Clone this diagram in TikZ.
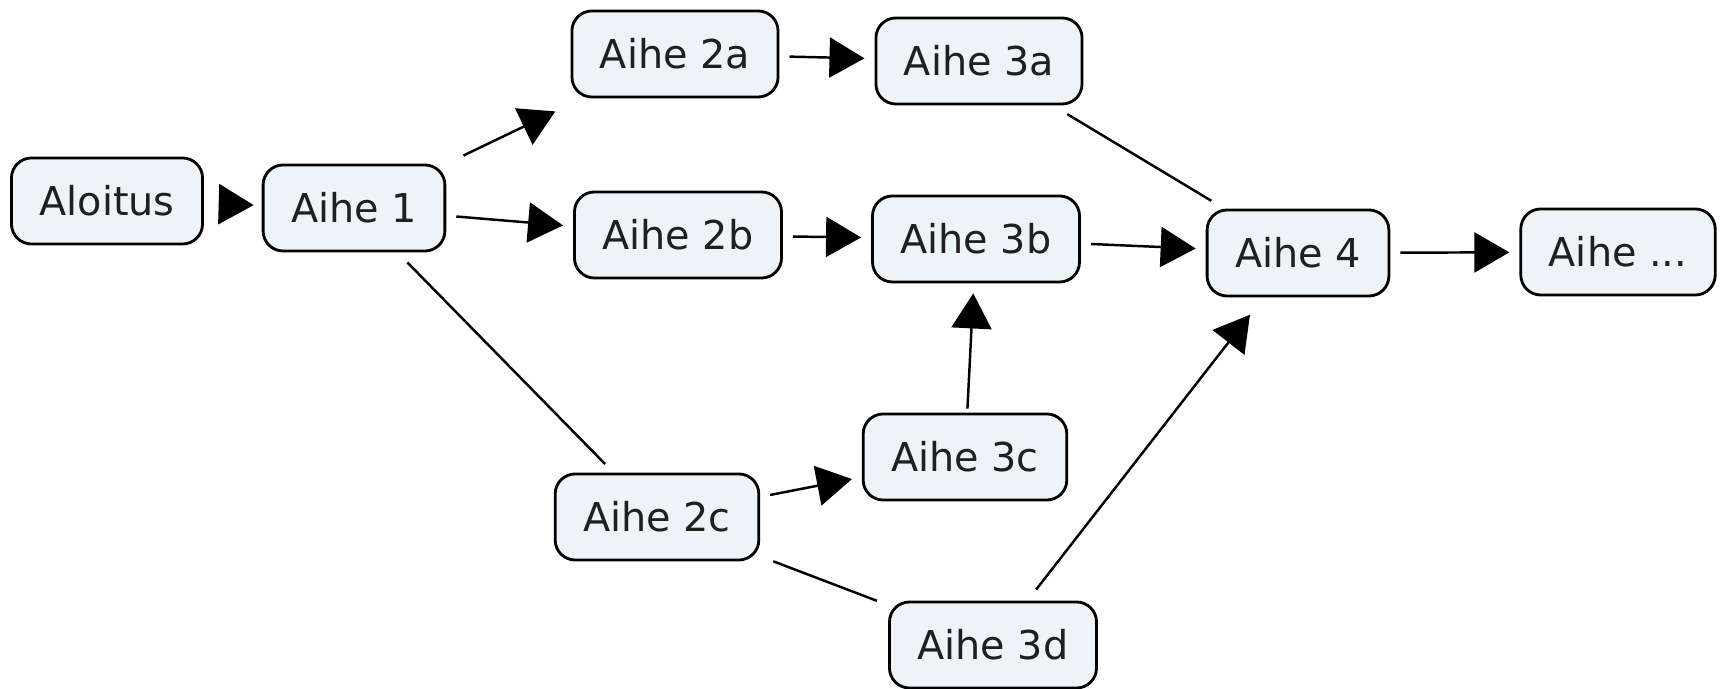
\documentclass[tikz,border=0pt]{standalone}
\usepackage{fontspec}
\setmainfont{DejaVu Sans}
\usetikzlibrary{arrows.meta,positioning}
\definecolor{conceptfill}{RGB}{237,243,247}

\begin{document}
\begin{tikzpicture}[
  x=0.01cm, y=-0.01cm,
  concept/.style={rectangle, draw, rounded corners=0.2cm, fill=conceptfill,
    line width=0.8pt, inner xsep=0.28cm, minimum height=0.86cm,
    font=\fontsize{11.3}{13}\selectfont, text=black!88},
  arr/.style={-{Triangle[length=0.35cm, width=0.4cm]}, line width=0.7pt,
    shorten <=0.1cm, shorten >=0.1cm},
  link/.style={line width=0.7pt, shorten <=0.14cm, shorten >=0.12cm}
]
\useasboundingbox (0,0) rectangle (1720,689);

% Start
\node[concept] (start) at (107,201) {Aloitus};
\node[concept] (aihe1) at (354,208) {Aihe 1};

% Second column
\node[concept] (aihe2a) at (675,54) {Aihe 2a};
\node[concept] (aihe2b) at (678,235) {Aihe 2b};
\node[concept] (aihe2c) at (657,517) {Aihe 2c};

% Third column
\node[concept] (aihe3a) at (979,61) {Aihe 3a};
\node[concept] (aihe3b) at (976,239) {Aihe 3b};
\node[concept] (aihe3c) at (965,457) {Aihe 3c};
\node[concept] (aihe3d) at (993,645) {Aihe 3d};

% End
\node[concept] (aihe4) at (1298,253) {Aihe 4};
\node[concept] (aihemore) at (1618,252) {Aihe ...};

\draw[arr, shorten <=0.17cm, shorten >=0.08cm] (start) -- (aihe1);
\draw[arr, shorten <=0.19cm, shorten >=0.3cm] (aihe1) -- (aihe2a);
\draw[arr] (aihe1) -- (aihe2b);
\draw[link] (aihe1) -- (aihe2c);

\draw[arr] (aihe2a) -- (aihe3a);
\draw[arr] (aihe2b) -- (aihe3b);
\draw[arr] (aihe2c) -- (aihe3c);
\draw[link] (aihe2c) -- (aihe3d);

\draw[link, shorten <=0.17cm, shorten >=0.15cm] (aihe3a) -- (aihe4);
\draw[arr] (aihe3b) -- (aihe4);
\draw[arr, shorten <=0.04cm] (aihe3c) -- (aihe3b);
\draw[arr, shorten <=0.14cm, shorten >=0.22cm] (aihe3d) -- (aihe4);

\draw[arr] (aihe4) -- (aihemore);

\end{tikzpicture}
\end{document}
